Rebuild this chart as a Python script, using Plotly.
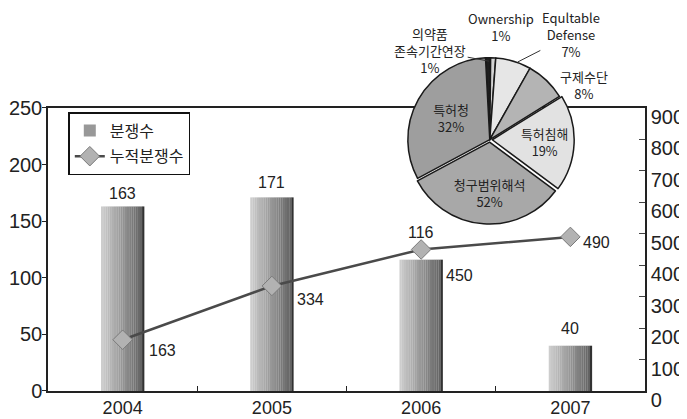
import plotly.graph_objects as go

years = ['2004', '2005', '2006', '2007']
disputes = [163, 171, 116, 40]
cumulative = [163, 334, 450, 490]

pie_labels = ['의약품 존속기간연장', 'Ownership', 'Equltable Defense', '구제수단',
              '특허침해', '청구범위해석', '특허청']
pie_values = [1, 1, 7, 8, 19, 32, 32]          # slice sizes as drawn
pie_printed = ['1%', '1%', '7%', '8%', '19%', '52%', '32%']  # percentages as printed
pie_names = ['의약품<br>존속기간연장', 'Ownership', 'Equltable<br>Defense', '구제수단',
             '특허침해', '청구범위해석', '특허청']

NUM_FONT = 'Liberation Sans, Arial, sans-serif'
KR_FONT = 'Noto Sans CJK KR, sans-serif'

fig = go.Figure()

# gradient bars built from thin overlaid slices
n_slices = 20
bar_w = 0.29
for i in range(n_slices):
    t = i / (n_slices - 1)
    g = int(205 - t * 110)
    if i == n_slices - 1:
        g = 50
    fig.add_trace(go.Bar(
        x=years, y=disputes,
        width=bar_w / n_slices * 1.05,
        offset=-bar_w / 2 + i * bar_w / n_slices,
        marker=dict(color=f'rgb({g},{g},{g})', line=dict(width=0)),
        name='분쟁수', showlegend=(i == 9), legendgroup='bars',
    ))

fig.add_trace(go.Scatter(
    x=years, y=cumulative, yaxis='y2', name='누적분쟁수',
    mode='lines+markers',
    line=dict(color='#4a4a4a', width=2.5),
    marker=dict(symbol='diamond', size=15, color='#b2b2b2',
                line=dict(color='#7a7a7a', width=1)),
))

# pie inset
fig.add_trace(go.Pie(
    labels=pie_labels, values=pie_values,
    text=[f'{n}<br>{p}' for n, p in zip(pie_names, pie_printed)],
    textinfo='text',
    textposition=['none', 'none', 'none', 'none', 'inside', 'inside', 'inside'],
    insidetextorientation='horizontal',
    textfont=dict(family=KR_FONT, size=13, color='#222'),
    sort=False, direction='clockwise', rotation=-3,
    pull=[0, 0, 0, 0, 0.03, 0.03, 0],
    marker=dict(colors=['#1e1e1e', '#d4d4d4', '#e6e6e6', '#b4b4b4',
                        '#e2e2e2', '#a8a8a8', '#9e9e9e'],
                line=dict(color='#1a1a1a', width=1.5)),
    domain=dict(x=[0.595, 0.885], y=[0.45, 0.905]),
    showlegend=False,
))

annotations = []
bar_shift = [13, 15, 27, 17]
for i, (v, s) in enumerate(zip(disputes, bar_shift)):
    annotations.append(dict(x=i, y=v, xref='x', yref='y', text=str(v),
                            showarrow=False, xanchor='center', yshift=s,
                            font=dict(family=NUM_FONT, size=16, color='#222')))
line_xshift = [24, 23, 23, 11]
line_yshift = [-11, -14, -26, -6]
for i, (v, dx, dy) in enumerate(zip(cumulative, line_xshift, line_yshift)):
    annotations.append(dict(x=i, y=v, xref='x', yref='y2', text=str(v),
                            showarrow=False, xanchor='left', xshift=dx, yshift=dy,
                            font=dict(family=NUM_FONT, size=16, color='#222')))

# outside pie labels
out_font = dict(family=KR_FONT, size=13, color='#222')
annotations += [
    dict(x=0.739, y=0.889, xref='paper', yref='paper', ax=-59, ay=-11,
         text=f'{pie_names[0]}<br>{pie_printed[0]}', showarrow=True,
         arrowhead=0, arrowwidth=1, arrowcolor='#333', font=out_font),
    dict(x=0.759, y=0.982, xref='paper', yref='paper', showarrow=False,
         xanchor='center', yanchor='middle',
         text=f'{pie_names[1]}<br>{pie_printed[1]}', font=out_font),
    dict(x=0.787, y=0.887, xref='paper', yref='paper', ax=53, ay=-27,
         text=f'{pie_names[2]}<br>{pie_printed[2]}', showarrow=True,
         arrowhead=0, arrowwidth=1, arrowcolor='#333', font=out_font),
    dict(x=0.898, y=0.825, xref='paper', yref='paper', showarrow=False,
         xanchor='center', yanchor='middle',
         text=f'{pie_names[3]}<br>{pie_printed[3]}', font=out_font),
]

# page body has an 8px margin, so the figure is sized to fit the window
fig.update_layout(
    width=679, height=411,
    margin=dict(l=40, r=42, t=12, b=28, autoexpand=False),
    paper_bgcolor='white', plot_bgcolor='white',
    barmode='overlay',
    xaxis=dict(type='category', range=[-0.5, 3.5], showline=True,
               linecolor='#222', linewidth=1.5,
               mirror=True, ticks='inside', tickson='boundaries', ticklen=5,
               tickcolor='#222', showgrid=False, tickangle=0,
               tickfont=dict(family=NUM_FONT, size=18, color='#222')),
    yaxis=dict(range=[0, 250], dtick=50, domain=[0, 0.763], showline=True,
               linecolor='#222', linewidth=1.5, ticks='outside', ticklen=4,
               tickcolor='#222', showgrid=False, zeroline=False,
               ticklabelstandoff=-4,
               tickfont=dict(family=NUM_FONT, size=20, color='#222')),
    yaxis2=dict(range=[0, 900], dtick=100, overlaying='y', side='right',
                showline=True, linecolor='#222', linewidth=1.5, ticks='inside',
                ticklen=6, tickcolor='#444', showgrid=False, zeroline=False,
                ticklabelshift=9,
                tickfont=dict(family=NUM_FONT, size=20, color='#222')),
    legend=dict(x=0.034, y=0.752, xanchor='left', yanchor='top',
                bgcolor='white', bordercolor='#111', borderwidth=1.5,
                font=dict(family=KR_FONT, size=16, color='#222'),
                tracegroupgap=2),
    annotations=annotations,
)

fig.write_html('out.html')
